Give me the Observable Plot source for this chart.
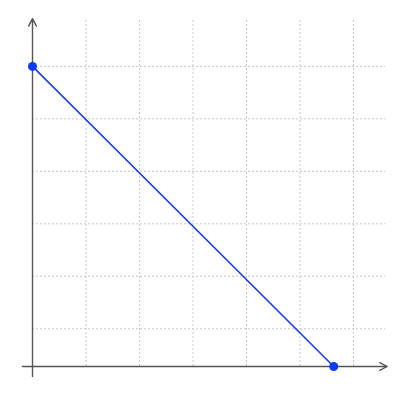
<!DOCTYPE html>
<html>
<head>
<meta charset="utf-8">
<script src="https://cdn.jsdelivr.net/npm/d3@7"></script>
<script src="https://cdn.jsdelivr.net/npm/@observablehq/plot@0.6"></script>
<style>
  html, body { margin: 0; padding: 0; background: #fff; }
</style>
</head>
<body>
<div id="chart"></div>
<script>
// Data
const xIntercept = 5.63;
const yIntercept = 5.72;
const xGrid = [1, 2, 3, 4, 5, 6];
const yGrid = [0.72, 1.72, 2.72, 3.72, 4.72, 5.72];
const gridEnd = 6.6;
const axisStart = -0.19;
const axisEnd = 6.63;

const linePts = [
  {x: 0, y: yIntercept},
  {x: xIntercept, y: 0}
];

const chart = Plot.plot({
  width: 400,
  height: 400,
  margin: 0,
  x: {domain: [-32 / 53.5, 368 / 53.5], axis: null},
  y: {domain: [-34 / 52.46, 366 / 52.46], axis: null},
  marks: [
    Plot.ruleX(xGrid, {x: d => d, y1: 0, y2: gridEnd, stroke: "#c8c8c8", strokeWidth: 1, strokeDasharray: "2,2"}),
    Plot.ruleY(yGrid, {y: d => d, x1: 0, x2: gridEnd, stroke: "#c8c8c8", strokeWidth: 1, strokeDasharray: "2,2"}),
    Plot.arrow([{x1: axisStart, y1: 0, x2: axisEnd, y2: 0}], {x1: "x1", y1: "y1", x2: "x2", y2: "y2", stroke: "#555", strokeWidth: 1.4, headLength: 9, headAngle: 55}),
    Plot.arrow([{x1: 0, y1: axisStart, x2: 0, y2: axisEnd}], {x1: "x1", y1: "y1", x2: "x2", y2: "y2", stroke: "#555", strokeWidth: 1.4, headLength: 9, headAngle: 55}),
    Plot.line(linePts, {x: "x", y: "y", stroke: "#1f3fd8", strokeWidth: 1.6}),
    Plot.dot(linePts, {x: "x", y: "y", r: 4.5, fill: "#0a3cf5", stroke: "none"})
  ]
});
document.getElementById("chart").appendChild(chart);
</script>
</body>
</html>
